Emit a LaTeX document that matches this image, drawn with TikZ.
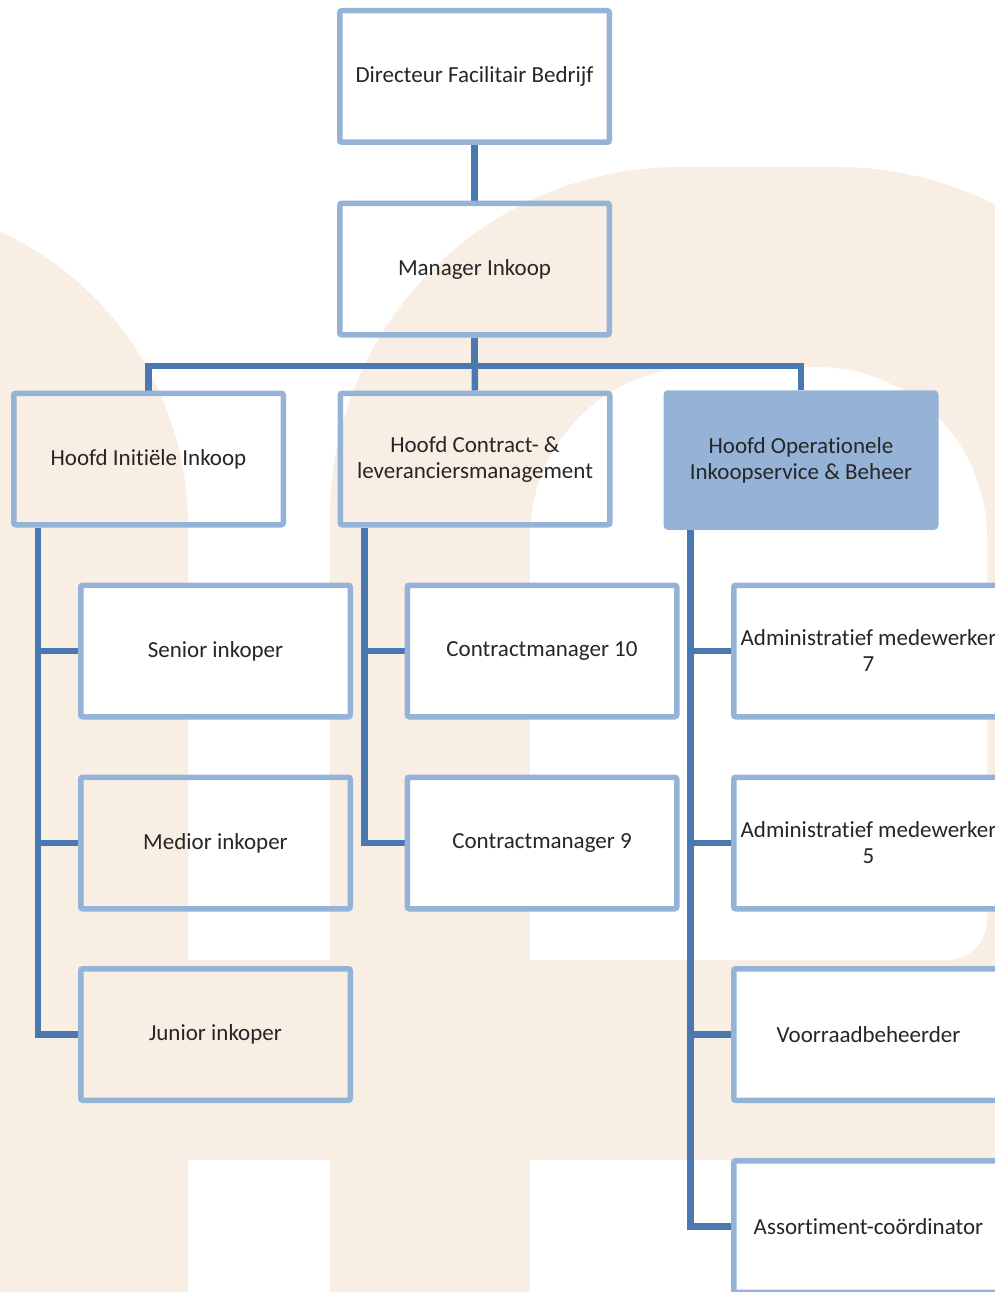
\documentclass[tikz,border=0pt]{standalone}
\usepackage{fontspec}
\setmainfont[Ligatures=NoCommon]{Carlito}
\definecolor{boxblue}{RGB}{149,179,215}
\definecolor{linkblue}{RGB}{74,120,176}
\definecolor{wmbeige}{RGB}{249,238,228}
\pgfdeclarelayer{wm}
\pgfdeclarelayer{edges}
\pgfsetlayers{wm,edges,main}
\begin{document}
\begin{tikzpicture}[x=1pt,y=1pt,
  orgbox/.style={draw=boxblue, line width=5.5pt, rounded corners=2pt,
    minimum width=269.5pt, minimum height=131.5pt, inner sep=0pt,
    align=center, font=\fontsize{23pt}{26pt}\selectfont, text=black!85},
  whitebox/.style={orgbox, fill=white},
  keybox/.style={orgbox, fill=boxblue, minimum height=134pt},
  link/.style={draw=linkblue, line width=6.5pt}]
\clip (0,0) rectangle (995,-1292);
\useasboundingbox (0,0) rectangle (995,-1292);

% nodes
\node[orgbox] (dir) at (474.5,-76.5) {Directeur Facilitair Bedrijf};
\node[orgbox] (man) at (474.5,-269) {Manager Inkoop};
\node[orgbox] (h1) at (148.5,-459) {Hoofd Initiële Inkoop};
\node[orgbox] (h2) at (475,-459) {Hoofd Contract- \&\\leveranciersmanagement};
\node[keybox] (h3) at (801,-460) {Hoofd Operationele\\Inkoopservice \& Beheer};
\node[whitebox] (s1) at (215.5,-651) {Senior inkoper};
\node[orgbox] (s2) at (215.5,-843) {Medior inkoper};
\node[orgbox] (s3) at (215.5,-1034.5) {Junior inkoper};
\node[whitebox] (c1) at (542,-651) {Contractmanager 10};
\node[whitebox] (c2) at (542,-843) {Contractmanager 9};
\node[whitebox] (o1) at (868.5,-651) {Administratief medewerker\\7};
\node[whitebox] (o2) at (868.5,-843) {Administratief medewerker\\5};
\node[whitebox] (o3) at (868.5,-1034.5) {Voorraadbeheerder};
\node[whitebox] (o4) at (868.5,-1226.5) {Assortiment-coördinator};
\coordinate (bus) at (474.5,-366);

% watermark
\begin{pgfonlayer}{wm}
\fill[white] (0,0) rectangle (995,-1292);
\fill[wmbeige] (0,-231.6) arc[start angle=65.3, end angle=0, radius=323] -- (188,-1292) -- (0,-1292) -- cycle;
\fill[wmbeige] (330,-1292) -- (330,-517) arc[start angle=180, end angle=90, radius=350]
  -- (837,-167) arc[start angle=90, end angle=0, radius=350] -- (1187,-1292) -- cycle;
\fill[wmbeige] (0,-960) rectangle (995,-1160);
\fill[white] (530,-960) -- (530,-537) arc[start angle=180, end angle=90, radius=170]
  -- (817,-367) arc[start angle=90, end angle=0, radius=170]
  -- (987,-920) arc[start angle=0, end angle=-90, radius=40] -- cycle;
\fill[white] (188,-1160) rectangle (330,-1292);
\fill[white] (530,-1160) rectangle (995,-1292);
\end{pgfonlayer}

% connectors
\begin{pgfonlayer}{edges}
\draw[link] (dir) -- (man);
\draw[link] (man) -- (h2);
\draw[link] (man.south) -- (bus) -| (h1.north);
\draw[link] (bus) -| (h3.north);
\foreach \t in {s1,s2,s3} \draw[link] ([xshift=27pt]h1.south west) |- (\t.west);
\foreach \t in {c1,c2} \draw[link] ([xshift=27pt]h2.south west) |- (\t.west);
\foreach \t in {o1,o2,o3,o4} \draw[link] ([xshift=27pt]h3.south west) |- (\t.west);
\end{pgfonlayer}
\end{tikzpicture}
\end{document}
